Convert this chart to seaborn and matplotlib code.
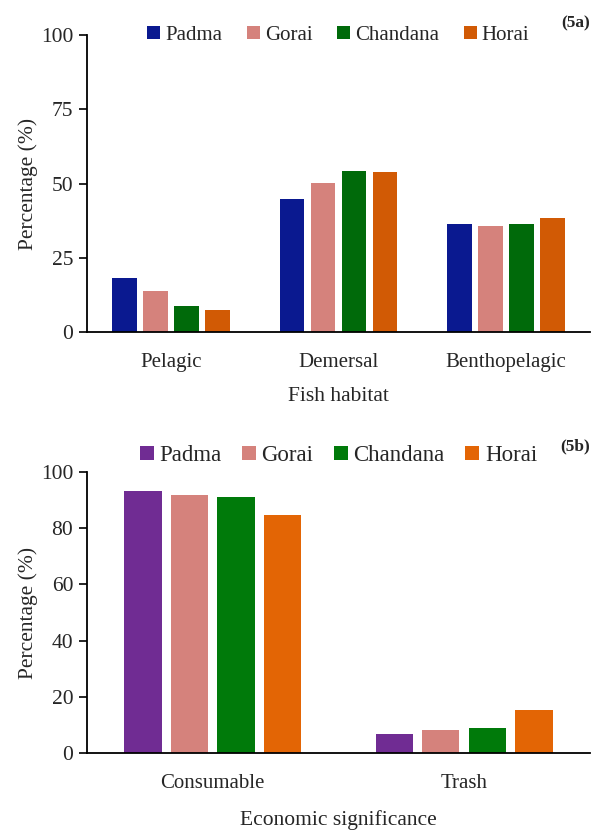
import numpy as np
import pandas as pd
import matplotlib
matplotlib.use("Agg")
import matplotlib.pyplot as plt
import seaborn as sns

# --- data ---
rivers = ["Padma", "Gorai", "Chandana", "Horai"]

habitats = ["Pelagic", "Demersal", "Benthopelagic"]
habitat_padma = [18.2, 45.0, 36.6]
habitat_gorai = [13.9, 50.2, 35.9]
habitat_chandana = [9.0, 54.4, 36.4]
habitat_horai = [7.5, 53.9, 38.4]

econ = ["Consumable", "Trash"]
econ_padma = [93.3, 6.7]
econ_gorai = [91.7, 8.2]
econ_chandana = [91.0, 9.0]
econ_horai = [84.7, 15.2]

colors_a = ["#0A1990", "#D5827C", "#006A0A", "#D15A05"]
colors_b = ["#702C93", "#D5827C", "#007A0A", "#E36505"]


def long_table(cats, series):
    rows = []
    for river, vals in zip(rivers, series):
        for c, v in zip(cats, vals):
            rows.append({"cat": c, "river": river, "value": v})
    return pd.DataFrame(rows)


df_a = long_table(habitats, [habitat_padma, habitat_gorai, habitat_chandana, habitat_horai])
df_b = long_table(econ, [econ_padma, econ_gorai, econ_chandana, econ_horai])

sns.set_style("white")
plt.rcParams["font.family"] = ["Liberation Serif", "DejaVu Serif"]

fig = plt.figure(figsize=(5.94, 8.35), dpi=100)
ax_a = fig.add_axes([0.1465, 0.602, 0.8465, 0.356])
ax_b = fig.add_axes([0.1465, 0.098, 0.8465, 0.337])


def style_axis(ax, df, cats, colors, yticks, xlabel, tag, legend_y, leg_fs, colsp, tag_y, xpad):
    sns.barplot(data=df, x="cat", y="value", hue="river", order=cats,
                hue_order=rivers, palette=colors, width=0.74, gap=0.2,
                saturation=1, linewidth=0, ax=ax, legend=True)
    n = len(cats)
    ax.set_xlim(-0.5, n - 0.5)
    ax.set_ylim(0, 100)
    ax.set_yticks(yticks)
    ax.set_yticklabels([str(t) for t in yticks], fontsize=15.5)
    ax.set_xticks(range(n))
    ax.set_xticklabels(cats, fontsize=15)
    ax.set_xticks(np.arange(-0.5, n, 1.0), minor=True)
    ax.tick_params(axis="x", which="major", length=0, pad=15)
    ax.tick_params(axis="x", which="minor", length=7, width=1.2, direction="out", color="black")
    ax.tick_params(axis="y", length=6, width=1.2, direction="out", left=True, color="black", pad=4)
    for s in ["top", "right"]:
        ax.spines[s].set_visible(False)
    for s in ["left", "bottom"]:
        ax.spines[s].set_color("black")
        ax.spines[s].set_linewidth(1.3)
    ax.set_ylabel("Percentage (%)", fontsize=15.5, labelpad=2)
    ax.set_xlabel(xlabel, fontsize=15.5, labelpad=xpad)
    ax.legend(loc="center", bbox_to_anchor=(0.5, legend_y), ncol=4, frameon=False,
              fontsize=leg_fs, handlelength=0.6, handleheight=0.6, handletextpad=0.25,
              columnspacing=colsp)
    ax.text(1.0, tag_y, tag, transform=ax.transAxes, ha="right",
            va="center", fontsize=12.5, fontweight="bold")


style_axis(ax_a, df_a, habitats, colors_a, [0, 25, 50, 75, 100], "Fish habitat", "(5a)",
           1.0, 15, 1.2, 1.04, 11)
style_axis(ax_b, df_b, econ, colors_b, [0, 20, 40, 60, 80, 100], "Economic significance", "(5b)",
           1.058, 16.5, 0.9, 1.09, 12)

fig.savefig("out.png", dpi=100)
